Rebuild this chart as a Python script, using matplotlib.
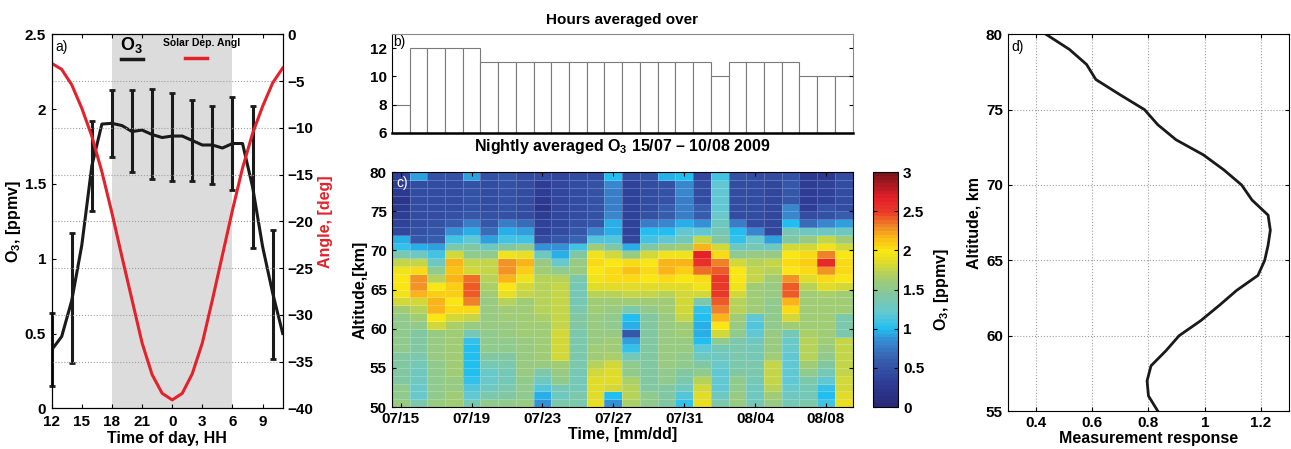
import matplotlib

matplotlib.use("Agg")

import matplotlib.pyplot as plt
import numpy as np
import pandas as pd
from matplotlib.colors import LinearSegmentedColormap

plt.rcParams["font.family"] = ["Liberation Sans", "DejaVu Sans"]
plt.rcParams["font.weight"] = "bold"
plt.rcParams["axes.labelweight"] = "bold"
plt.rcParams["font.size"] = 11
plt.rcParams["axes.labelsize"] = 11.5
plt.rcParams["mathtext.fontset"] = "custom"
plt.rcParams["mathtext.rm"] = "Liberation Sans:bold"
plt.rcParams["mathtext.bf"] = "Liberation Sans:bold"
plt.rcParams["mathtext.default"] = "bf"
plt.rcParams["xtick.direction"] = "in"
plt.rcParams["ytick.direction"] = "in"
plt.rcParams["axes.linewidth"] = 0.8

# %% a) diurnal O3 and solar depression angle
hour_of_day = [12, 13, 14, 15, 16, 17, 18, 19, 20, 21, 22, 23, 0, 1, 2, 3, 4, 5, 6, 7, 8, 9, 10, 11]
o3_diurnal = [0.39, 0.48, 0.72, 1.09, 1.62, 1.90, 1.905, 1.89, 1.85, 1.86, 1.83, 1.81,
              1.82, 1.82, 1.79, 1.76, 1.76, 1.74, 1.77, 1.77, 1.48, 1.08, 0.77, 0.50]
solar_angle = [-3.1, -3.75, -5.4, -7.9, -10.9, -14.7, -19.1, -23.8, -28.4, -33.0, -36.4, -38.4,
               -39.1, -38.4, -36.3, -33.0, -28.4, -23.6, -18.8, -14.3, -10.6, -7.7, -5.2, -3.6]
err_hour = [12, 14, 16, 18, 20, 22, 0, 2, 4, 6, 8, 10]
err_top = [0.635, 1.17, 1.92, 2.13, 2.13, 2.135, 2.105, 2.06, 2.02, 2.08, 2.02, 1.19]
err_bottom = [0.15, 0.30, 1.32, 1.68, 1.58, 1.53, 1.52, 1.52, 1.50, 1.46, 1.07, 0.33]
night_start, night_end = 18, 6

# %% b) hours averaged per night
hours_averaged = [8, 12, 12, 12, 12, 11, 11, 11, 11, 11, 11, 11, 11, 11,
                  11, 11, 11, 11, 10, 11, 11, 11, 11, 10, 10, 10]
night_dates = pd.date_range("2009-07-15", periods=len(hours_averaged), freq="D")

# %% c) nightly O3 profiles [ppmv], one list per night, 80 km down to 50 km (1 km layers)
o3_profiles = [
    [0.35, 0.3, 0.25, 0.2, 0.25, 0.3, 0.35, 0.4, 0.95, 1.05, 1.4, 1.75, 1.95, 2.0, 2.0, 1.95, 1.8, 1.6, 1.5, 1.5, 1.5, 1.5, 1.5, 1.45, 1.45, 1.45, 1.45, 1.5, 1.5, 1.55],
    [0.9, 0.45, 0.45, 0.45, 0.45, 0.45, 0.45, 0.5, 0.55, 0.95, 1.3, 1.75, 2.05, 2.25, 2.25, 2.2, 1.8, 1.7, 1.6, 1.5, 1.45, 1.45, 1.45, 1.4, 1.35, 1.3, 1.3, 1.25, 1.25, 1.4],
    [0.5, 0.45, 0.45, 0.45, 0.45, 0.45, 0.5, 0.55, 0.6, 0.9, 1.1, 1.3, 1.5, 1.7, 2.0, 2.1, 2.2, 2.2, 2.0, 1.8, 1.55, 1.55, 1.55, 1.55, 1.5, 1.5, 1.5, 1.5, 1.5, 1.55],
    [0.5, 0.45, 0.45, 0.45, 0.45, 0.5, 0.6, 0.85, 1.1, 1.4, 1.8, 2.2, 2.15, 2.2, 2.1, 2.1, 2.0, 2.05, 1.8, 1.65, 1.6, 1.6, 1.6, 1.6, 1.6, 1.6, 1.55, 1.55, 1.6, 1.6],
    [0.9, 0.5, 0.5, 0.5, 0.5, 0.55, 0.75, 0.95, 1.2, 1.45, 1.5, 1.75, 1.8, 2.35, 2.4, 2.4, 2.3, 2.05, 1.75, 1.55, 1.35, 1.05, 1.0, 1.0, 1.0, 1.0, 1.05, 1.15, 1.2, 1.35],
    [0.5, 0.45, 0.45, 0.45, 0.45, 0.5, 0.55, 0.7, 0.9, 1.3, 1.5, 1.75, 1.75, 1.7, 1.65, 1.6, 1.55, 1.55, 1.55, 1.55, 1.5, 1.5, 1.5, 1.45, 1.35, 1.25, 1.25, 1.3, 1.4, 1.5],
    [0.55, 0.5, 0.5, 0.5, 0.5, 0.5, 0.75, 0.95, 1.1, 1.45, 1.95, 2.25, 2.25, 2.2, 2.0, 1.9, 1.7, 1.6, 1.6, 1.55, 1.55, 1.5, 1.5, 1.45, 1.4, 1.35, 1.35, 1.4, 1.45, 1.5],
    [0.45, 0.45, 0.45, 0.45, 0.45, 0.45, 0.7, 0.9, 1.1, 1.5, 1.9, 2.2, 2.1, 1.95, 1.8, 1.75, 1.6, 1.6, 1.6, 1.6, 1.6, 1.55, 1.55, 1.55, 1.55, 1.55, 1.5, 1.5, 1.5, 1.55],
    [0.45, 0.3, 0.3, 0.25, 0.2, 0.3, 0.35, 0.35, 0.45, 0.85, 1.3, 1.55, 1.6, 1.7, 1.7, 1.7, 1.7, 1.7, 1.65, 1.6, 1.6, 1.6, 1.6, 1.6, 1.55, 1.4, 1.3, 1.15, 0.95, 0.85],
    [0.4, 0.4, 0.4, 0.4, 0.4, 0.4, 0.4, 0.45, 0.55, 0.85, 0.95, 1.25, 1.5, 1.7, 1.75, 1.75, 1.75, 1.75, 1.75, 1.75, 1.8, 1.8, 1.8, 1.8, 1.6, 1.55, 1.5, 1.35, 1.3, 1.4],
    [0.45, 0.45, 0.45, 0.45, 0.45, 0.45, 0.5, 0.55, 0.65, 1.1, 1.45, 1.55, 1.55, 1.4, 1.35, 1.35, 1.35, 1.4, 1.45, 1.45, 1.4, 1.4, 1.4, 1.4, 1.4, 1.35, 1.35, 1.35, 1.4, 1.4],
    [0.45, 0.5, 0.5, 0.5, 0.5, 0.5, 0.55, 0.8, 1.15, 1.6, 1.95, 2.05, 2.0, 1.95, 1.85, 1.7, 1.6, 1.6, 1.55, 1.55, 1.55, 1.55, 1.6, 1.6, 1.7, 1.8, 1.85, 1.85, 1.85, 1.9],
    [1.0, 0.8, 0.75, 0.75, 0.75, 0.8, 0.95, 0.95, 1.15, 1.45, 1.8, 2.0, 2.05, 2.05, 1.85, 1.7, 1.6, 1.55, 1.5, 1.5, 1.55, 1.6, 1.6, 1.65, 1.8, 1.85, 1.85, 1.8, 1.0, 0.85],
    [0.45, 0.35, 0.35, 0.35, 0.35, 0.35, 0.35, 0.35, 0.4, 0.95, 1.55, 2.05, 2.15, 2.05, 1.85, 1.75, 1.6, 1.4, 1.0, 0.95, 0.55, 0.9, 1.05, 1.35, 1.5, 1.5, 1.65, 1.7, 1.7, 1.65],
    [0.5, 0.45, 0.45, 0.45, 0.45, 0.5, 0.75, 1.0, 1.1, 1.45, 1.8, 2.0, 2.05, 2.0, 1.85, 1.75, 1.6, 1.5, 1.45, 1.45, 1.45, 1.45, 1.45, 1.45, 1.45, 1.45, 1.45, 1.45, 1.5, 1.5],
    [0.95, 0.5, 0.5, 0.5, 0.6, 0.6, 0.8, 1.0, 1.2, 1.55, 1.95, 2.2, 2.2, 2.05, 1.85, 1.7, 1.6, 1.6, 1.55, 1.55, 1.55, 1.55, 1.55, 1.55, 1.55, 1.5, 1.5, 1.45, 1.45, 1.45],
    [1.0, 0.8, 0.8, 0.75, 0.75, 0.75, 0.95, 1.2, 1.35, 1.6, 1.95, 2.2, 2.1, 2.0, 1.85, 1.8, 1.8, 1.8, 1.75, 1.6, 1.6, 1.55, 1.55, 1.5, 1.5, 1.45, 1.4, 1.3, 1.15, 1.05],
    [0.4, 0.45, 0.45, 0.45, 0.6, 0.6, 0.85, 1.2, 1.75, 2.2, 2.65, 2.55, 2.35, 2.05, 1.95, 1.8, 1.4, 1.05, 1.0, 0.95, 0.95, 1.0, 1.2, 1.3, 1.45, 1.5, 1.7, 1.8, 1.85, 1.9],
    [1.1, 1.2, 1.2, 1.2, 1.2, 1.25, 1.3, 1.35, 1.45, 1.8, 2.05, 2.3, 2.4, 2.5, 2.5, 2.5, 2.4, 2.3, 2.2, 2.0, 1.8, 1.5, 1.35, 1.3, 1.25, 1.2, 1.2, 1.2, 1.3, 1.4],
    [0.5, 0.45, 0.45, 0.45, 0.45, 0.45, 0.75, 1.0, 1.05, 1.3, 1.5, 1.8, 2.0, 2.0, 1.95, 1.8, 1.7, 1.7, 1.6, 1.55, 1.5, 1.4, 1.4, 1.4, 1.4, 1.45, 1.5, 1.5, 1.55, 1.55],
    [0.45, 0.45, 0.45, 0.45, 0.45, 0.45, 0.45, 0.8, 1.25, 1.35, 1.55, 1.7, 1.75, 1.75, 1.6, 1.6, 1.6, 1.6, 1.2, 1.15, 1.2, 1.3, 1.35, 1.35, 1.4, 1.4, 1.35, 1.3, 1.3, 1.35],
    [0.45, 0.4, 0.4, 0.4, 0.4, 0.4, 0.4, 0.4, 0.9, 1.3, 1.55, 1.75, 1.7, 1.6, 1.55, 1.55, 1.5, 1.5, 1.5, 1.5, 1.55, 1.55, 1.55, 1.6, 1.75, 1.75, 1.75, 1.7, 1.6, 1.55],
    [0.5, 0.55, 0.55, 0.55, 0.8, 0.8, 1.0, 1.35, 1.45, 1.8, 2.0, 2.05, 2.0, 2.25, 2.4, 2.4, 2.2, 2.05, 1.8, 1.6, 1.35, 1.25, 1.25, 1.2, 1.2, 1.2, 1.2, 1.25, 1.3, 1.35],
    [0.25, 0.3, 0.3, 0.3, 0.3, 0.45, 0.7, 1.3, 1.55, 1.8, 2.05, 2.1, 2.05, 1.85, 1.7, 1.6, 1.6, 1.6, 1.6, 1.6, 1.65, 1.7, 1.7, 1.7, 1.6, 1.5, 1.4, 1.35, 1.35, 1.4],
    [0.25, 0.35, 0.35, 0.35, 0.5, 0.5, 0.8, 1.3, 1.75, 1.95, 2.3, 2.6, 2.25, 2.05, 1.85, 1.65, 1.6, 1.6, 1.6, 1.6, 1.6, 1.6, 1.55, 1.5, 1.45, 1.35, 1.2, 1.05, 1.0, 1.1],
    [0.45, 0.45, 0.45, 0.45, 0.45, 0.6, 0.9, 1.3, 1.6, 1.8, 2.0, 2.05, 2.05, 2.0, 1.8, 1.6, 1.6, 1.6, 1.4, 1.4, 1.4, 1.75, 1.75, 1.75, 1.75, 1.75, 1.8, 1.8, 1.85, 1.9],
]
alt_top, alt_bottom = 80, 50

# %% d) measurement response
resp_alt = [80, 79, 78, 77, 76, 75, 74, 73, 72, 71, 70, 69, 68, 67, 66, 65, 64, 63, 62, 61, 60, 59, 58, 57, 56, 55]
resp_val = [0.436, 0.519, 0.58, 0.613, 0.698, 0.786, 0.833, 0.898, 0.995, 1.068, 1.131, 1.168, 1.225,
            1.233, 1.225, 1.213, 1.189, 1.113, 1.051, 0.986, 0.909, 0.862, 0.809, 0.795, 0.80, 0.833]

RED = "#e3222b"
BLACK = "#1a1a1a"

# jet as printed in the paper (a bit muted)
cmap = LinearSegmentedColormap.from_list("jet_print", [
    (0.00, (40 / 255, 40 / 255, 120 / 255)),
    (0.10, (45 / 255, 62 / 255, 150 / 255)),
    (0.20, (55 / 255, 95 / 255, 175 / 255)),
    (0.28, (55 / 255, 140 / 255, 210 / 255)),
    (0.333, (35 / 255, 190 / 255, 240 / 255)),
    (0.40, (100 / 255, 200 / 255, 210 / 255)),
    (0.48, (130 / 255, 200 / 255, 160 / 255)),
    (0.55, (165 / 255, 205 / 255, 110 / 255)),
    (0.62, (225 / 255, 220 / 255, 40 / 255)),
    (0.667, (250 / 255, 230 / 255, 20 / 255)),
    (0.72, (250 / 255, 190 / 255, 20 / 255)),
    (0.77, (240 / 255, 140 / 255, 40 / 255)),
    (0.833, (235 / 255, 60 / 255, 40 / 255)),
    (0.90, (225 / 255, 30 / 255, 40 / 255)),
    (1.00, (125 / 255, 20 / 255, 25 / 255)),
], N=64)

fig = plt.figure(figsize=(12.91, 4.49), dpi=100)

# %% panel a
hours = np.array(hour_of_day, dtype=float)
t = np.where(hours < 12, hours + 24, hours)
eh = np.array(err_hour, dtype=float)
et = np.where(eh < 12, eh + 24, eh)
e_top = np.array(err_top)
e_bot = np.array(err_bottom)

ax_a = fig.add_axes([0.040, 0.0906, 0.179, 0.833])
ax_a.axvspan(night_start, night_end + 24, color="#dcdcdc", lw=0, zorder=0)
ax_a.plot(t, o3_diurnal, color=BLACK, lw=2.2, zorder=3)
ax_a.errorbar(et, (e_top + e_bot) / 2, yerr=(e_top - e_bot) / 2, fmt="none", ecolor=BLACK,
              elinewidth=2.2, capsize=2.5, capthick=2, zorder=3, clip_on=False)
ax_a.set_xlim(t.min(), t.max())
ax_a.set_ylim(0, 2.5)
ax_a.set_yticks([0, 0.5, 1, 1.5, 2, 2.5])
ax_a.set_yticklabels(["0", "0.5", "1", "1.5", "2", "2.5"])
xt = np.arange(12, 36, 3)
ax_a.set_xticks(xt)
ax_a.set_xticklabels([str(int(v) % 24) for v in xt])
ax_a.set_xlabel("Time of day, HH", labelpad=1)
ax_a.set_ylabel("O$_3$, [ppmv]", labelpad=1)
ax_a.tick_params(top=True, length=3)
ax_a.tick_params(axis="x", pad=5)
ax_a.tick_params(axis="y", pad=4)
ax_a.text(0.015, 0.985, "a)", transform=ax_a.transAxes, ha="left", va="top", fontsize=10, fontweight="normal")

ax_r = ax_a.twinx()
ax_r.plot(t, solar_angle, color=RED, lw=2.2)
ax_r.set_ylim(-40, 0)
ax_r.set_yticks(np.arange(-40, 1, 5))
ax_r.yaxis.grid(True, linestyle=":", color="#a0a0a0", lw=0.8)
ax_r.set_ylabel("Angle, [deg]", color=RED, labelpad=3)
ax_r.tick_params(length=3)

# legend with the label above the line
ax_a.text(0.347, 0.972, "O$_3$", transform=ax_a.transAxes, ha="center", va="center", fontsize=13, zorder=5)
ax_a.plot([0.30, 0.395], [0.934, 0.934], transform=ax_a.transAxes, color=BLACK, lw=2.5, zorder=5)
ax_a.text(0.65, 0.976, "Solar Dep. Angl", transform=ax_a.transAxes, ha="center", va="center", fontsize=7.5, zorder=5)
ax_a.plot([0.576, 0.672], [0.937, 0.937], transform=ax_a.transAxes, color=RED, lw=2.5, zorder=5)

# %% panel b
idx = np.arange(len(hours_averaged))
ax_b = fig.add_axes([0.3035, 0.704, 0.3569, 0.2205])
ax_b.bar(idx, hours_averaged, width=1.0, color="white", edgecolor="#7a7a7a", lw=0.8)
ax_b.set_xlim(-0.5, len(idx) - 0.5)
ax_b.set_ylim(6, 13)
ax_b.set_yticks([6, 8, 10, 12])
ax_b.set_xticks([])
ax_b.tick_params(right=True, length=3)
for s in ["top", "right"]:
    ax_b.spines[s].set_color("#8a8a8a")
ax_b.spines["bottom"].set_linewidth(1.8)
ax_b.set_title("Hours averaged over", fontsize=11, fontweight="bold", pad=7)
ax_b.set_xlabel("Nightly averaged O$_3$ 15/07 \u2013 10/08 2009", labelpad=3)
ax_b.text(0.004, 0.985, "b)", transform=ax_b.transAxes, ha="left", va="top", fontsize=10, fontweight="normal")

# %% panel c
Z = np.array(o3_profiles).T[::-1]
alt_edges = np.linspace(alt_bottom, alt_top, Z.shape[0] + 1)
x_edges = np.arange(len(idx) + 1) - 0.5
ax_c = fig.add_axes([0.3035, 0.0935, 0.3569, 0.523])
mesh = ax_c.pcolormesh(x_edges, alt_edges, Z, cmap=cmap, vmin=0, vmax=3,
                       edgecolors=(1, 1, 1, 0.22), linewidth=0.5)
ax_c.set_xlim(x_edges[0], x_edges[-1])
ax_c.set_ylim(alt_bottom, alt_top)
ax_c.set_yticks(np.arange(50, 81, 5))
ax_c.set_xticks(idx[::4])
ax_c.set_xticklabels([d.strftime("%m/%d") for d in night_dates[::4]])
ax_c.tick_params(length=3, top=True, right=True)
ax_c.set_ylabel("Altitude,[km]", labelpad=2)
ax_c.set_xlabel("Time, [mm/dd]", labelpad=1)
ax_c.text(0.01, 0.985, "c)", transform=ax_c.transAxes, ha="left", va="top", fontsize=10,
          fontweight="normal", color="white")

cax = fig.add_axes([0.6762, 0.0935, 0.0194, 0.523])
cb = fig.colorbar(mesh, cax=cax)
cb.set_ticks([0, 0.5, 1, 1.5, 2, 2.5, 3])
cb.set_ticklabels(["0", "0.5", "1", "1.5", "2", "2.5", "3"])
cb.ax.tick_params(length=3, left=True)
cb.outline.set_linewidth(0.8)
cb.set_label("O$_3$, [ppmv]", labelpad=6)

# %% panel d
ax_d = fig.add_axes([0.7806, 0.0846, 0.2180, 0.839])
ax_d.plot(resp_val, resp_alt, color=BLACK, lw=2)
ax_d.set_xlim(0.3, 1.3)
ax_d.set_ylim(55, 80)
ax_d.set_xticks([0.4, 0.6, 0.8, 1.0, 1.2])
ax_d.set_xticklabels(["0.4", "0.6", "0.8", "1", "1.2"])
ax_d.set_yticks(np.arange(55, 81, 5))
ax_d.grid(True, linestyle=":", color="#a0a0a0", lw=0.8)
ax_d.tick_params(top=True, right=True, length=3)
ax_d.set_xlabel("Measurement response", labelpad=1)
ax_d.set_ylabel("Altitude, km", labelpad=3)
ax_d.text(0.012, 0.985, "d)", transform=ax_d.transAxes, ha="left", va="top", fontsize=10, fontweight="normal")

fig.savefig("out.png", dpi=100)
